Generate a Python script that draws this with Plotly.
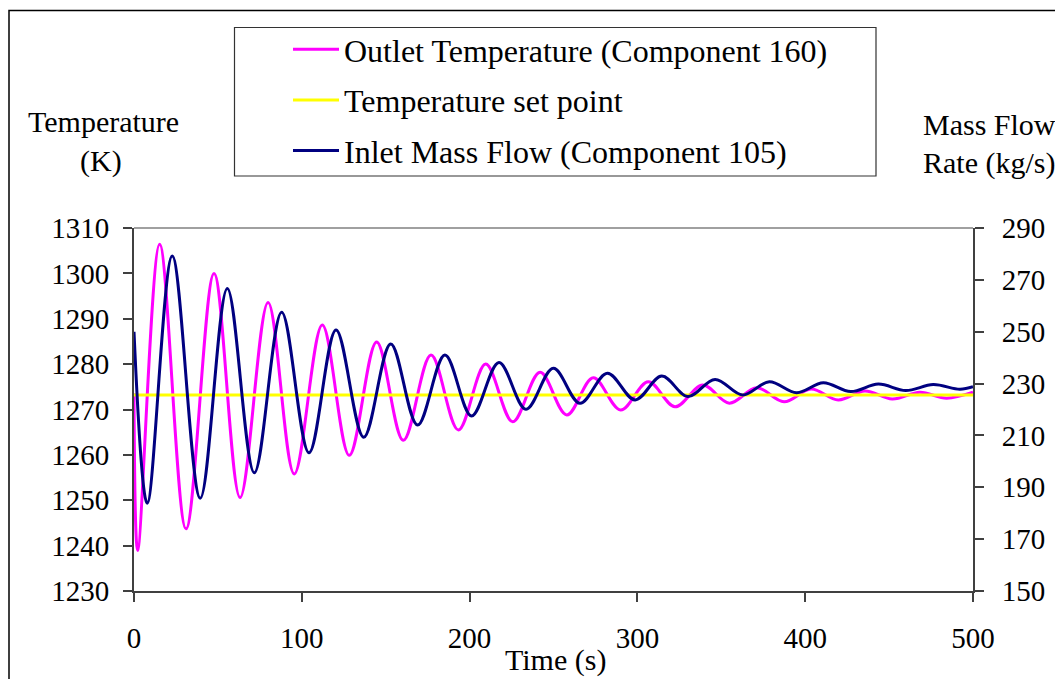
import plotly.graph_objects as go

# values (extrema of the damped oscillations)
temp_time = [0, 2.2, 15.3, 31.0, 47.7, 63.2, 79.9, 95.5, 112.2, 128.3, 144.6, 160.5, 177.0,
             193.3, 209.6, 225.7, 242.0, 257.9, 273.7, 290.0, 306.5, 322.4, 338.9, 354.8,
             371.1, 387.4, 403.5, 419.7, 435.6, 451.9, 468.4, 484.3, 500]
temp_k = [1273.5, 1238.9, 1306.4, 1243.7, 1300.0, 1250.6, 1293.6, 1255.8, 1288.6, 1259.9,
          1284.9, 1263.2, 1282.0, 1265.5, 1280.0, 1267.3, 1278.2, 1268.8, 1277.0, 1269.9,
          1276.1, 1270.6, 1275.4, 1271.4, 1274.8, 1271.7, 1274.5, 1272.1, 1274.1, 1272.3,
          1273.8, 1272.5, 1273.8]

flow_time = [0, 7.9, 22.8, 39.5, 55.6, 71.7, 88.0, 104.3, 120.4, 136.9, 153.0, 169.0, 185.3,
             201.2, 217.5, 233.6, 249.9, 265.8, 282.1, 298.6, 314.5, 330.0, 346.3, 362.7,
             378.6, 394.9, 410.8, 427.1, 443.6, 459.9, 476.3, 492.3, 500]
flow_kgs = [250, 183.8, 279.2, 185.8, 266.7, 195.6, 257.5, 203.3, 250.7, 209.3, 245.3, 214.0,
            241.0, 217.5, 238.1, 220.1, 235.9, 222.4, 234.0, 223.7, 232.9, 225.0, 231.6,
            225.6, 230.7, 226.5, 230.3, 226.9, 229.8, 227.3, 229.6, 227.8, 228.8]

setpoint_time = [0, 500]
setpoint_k = [1273.2, 1273.2]

OFF = 8  # the page body adds 8px around the figure
W, H = 1063 - OFF, 679 - OFF
L, R, T, B = 134, 973, 228, 591  # plot area in screen pixels
FONT = "Liberation Serif"


def px(x):
    return (x - L) / (R - L)


def py(y):
    return (B - y) / (B - T)


fig = go.Figure()
fig.add_trace(go.Scatter(x=temp_time, y=temp_k, mode="lines", line_shape="spline",
                         name="Outlet Temperature (Component 160)", legendgroup="a",
                         line=dict(color="#FF00FF", width=3)))
fig.add_trace(go.Scatter(x=setpoint_time, y=setpoint_k, mode="lines",
                         name="Temperature set point", legendgroup="b",
                         line=dict(color="#FFFF00", width=3)))
fig.add_trace(go.Scatter(x=flow_time, y=flow_kgs, mode="lines", line_shape="spline",
                         name="Inlet Mass Flow (Component 105)", legendgroup="c", yaxis="y2",
                         line=dict(color="#000080", width=3)))

axis_common = dict(showgrid=False, zeroline=False, ticks="outside", ticklen=9, tickwidth=1.5,
                   tickcolor="#404040", linecolor="#404040", linewidth=2, showline=True,
                   tickfont=dict(family=FONT, size=29, color="black"))

fig.update_layout(
    width=W, height=H,
    margin=dict(l=L - OFF, r=W - (R - OFF), t=T - OFF, b=H - (B - OFF), autoexpand=False),
    paper_bgcolor="white", plot_bgcolor="white",
    font=dict(family=FONT, color="black"),
    xaxis=dict(range=[0, 500], dtick=100, ticklabelstandoff=11, **axis_common),
    yaxis=dict(range=[1230, 1310], dtick=10, ticklabelstandoff=8, **axis_common),
    yaxis2=dict(range=[150, 290], tick0=150, dtick=20, overlaying="y", side="right",
                ticklabelstandoff=12, **axis_common),
    showlegend=True,
    legend=dict(x=px(288), y=py(22), xanchor="left", yanchor="top",
                bgcolor="rgba(0,0,0,0)", borderwidth=0, tracegroupgap=6,
                font=dict(family=FONT, size=32, color="black"), itemwidth=46),
    shapes=[
        # top border of plot area
        dict(type="line", xref="paper", yref="paper", x0=0, x1=1, y0=1, y1=1,
             line=dict(color="#a0a0a0", width=2)),
        # outer chart frame
        dict(type="rect", xref="paper", yref="paper", x0=px(9), x1=px(1080),
             y0=py(700), y1=py(10.5), line=dict(color="black", width=1.5)),
        # legend box
        dict(type="rect", xref="paper", yref="paper", x0=px(234.5), x1=px(876),
             y0=py(176), y1=py(27.5), line=dict(color="#333333", width=1.2)),
    ],
)


def label(text, x, y, xanchor="center"):
    fig.add_annotation(text=text, xref="paper", yref="paper", x=px(x), y=py(y),
                       xanchor=xanchor, yanchor="middle", showarrow=False,
                       font=dict(family=FONT, size=30, color="black"))


label("Temperature", 103, 121)
label("(K)", 101, 161)
label("Mass Flow", 921, 124, "left")
label("Rate (kg/s)", 921, 163, "left")
label("Time (s)", 555, 660)

fig.write_html("out.html")
